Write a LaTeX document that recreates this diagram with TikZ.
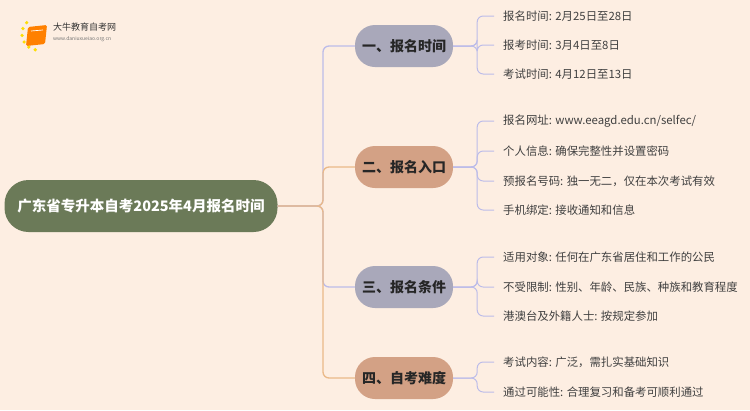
\documentclass[tikz,border=0pt]{standalone}
\usepackage{fontspec}
\setmainfont{Noto Sans CJK SC}
\begin{document}
\begin{tikzpicture}[x=1pt,y=-1pt,
  base/.style={font=\fontsize{11.4}{14}\selectfont},
  leaf/.style={base,anchor=west,inner sep=1pt,text=black!75},
  br/.style={rounded corners=20pt,minimum width=98pt,minimum height=42pt,font=\fontsize{14}{16}\selectfont\bfseries,text=black!85},
  lineA/.style={draw=gray!50!blue!35,line width=1.3pt,rounded corners=6pt},
  lineB/.style={draw=brown!60!orange!55,line width=1.3pt,rounded corners=6pt}]
\definecolor{bg}{HTML}{FDEEE2}
\definecolor{cA}{HTML}{A9A8BA}
\definecolor{cB}{HTML}{D3A185}
\definecolor{root}{HTML}{6B7A58}
\fill[bg] (0,0) rectangle (750,410);
\useasboundingbox (0,0) rectangle (750,410);
% logo
\foreach \a in {100,125,150,175,200,225}{\fill[yellow!80!orange] (38,34)++(\a:16) circle (1.8);}
\fill[orange,rounded corners=1.5pt] (28,27) -- (47,25) -- (45,44) -- (26,46) -- cycle;
\draw[white,line width=0.7pt] (31,31) -- (43,30);
\node[anchor=west,inner sep=0,font=\fontsize{9}{10}\selectfont,text=black!80] (logo) at (53,27) {大牛教育自考网};
\node[anchor=west,inner sep=0,font=\fontsize{5}{6}\selectfont,text=black!55] (url) at (53,39) {www.daniuxueiao.org.cn};
% root
\node[fill=root,rounded corners=24pt,minimum width=273pt,minimum height=52pt,text=white,font=\fontsize{14.5}{17}\selectfont\bfseries] (R) at (141,206) {广东省专升本自考2025年4月报名时间};
% branches
\node[br,fill=cA] (b1) at (404,46) {一、报名时间};
\node[br,fill=cB] (b2) at (404,167) {二、报名入口};
\node[br,fill=cA] (b3) at (404,287) {三、报名条件};
\node[br,fill=cB] (b4) at (404,378) {四、自考难度};
\draw[lineA] (R.east) -- (323,206) |- (b1.west);
\draw[lineB] (R.east) -- (323,206) |- (b2.west);
\draw[lineA] (R.east) -- (323,206) |- (b3.west);
\draw[lineB] (R.east) -- (323,206) |- (b4.west);
% leaves
\node[leaf] (l11) at (502,16) {报名时间: 2月25日至28日};
\node[leaf] (l12) at (502,45) {报考时间: 3月4日至8日};
\node[leaf] (l13) at (502,74) {考试时间: 4月12日至13日};
\node[leaf] (l21) at (502,121) {报名网址: www.eeagd.edu.cn/selfec/};
\node[leaf] (l22) at (502,151) {个人信息: 确保完整性并设置密码};
\node[leaf] (l23) at (502,181) {预报名号码: 独一无二，仅在本次考试有效};
\node[leaf] (l24) at (502,210) {手机绑定: 接收通知和信息};
\node[leaf] (l31) at (502,257) {适用对象: 任何在广东省居住和工作的公民};
\node[leaf] (l32) at (502,287) {不受限制: 性别、年龄、民族、种族和教育程度};
\node[leaf] (l33) at (502,316) {港澳台及外籍人士: 按规定参加};
\node[leaf] (l41) at (502,362) {考试内容: 广泛，需扎实基础知识};
\node[leaf] (l42) at (502,392) {通过可能性: 合理复习和备考可顺利通过};
\foreach \b/\l in {b1/l11,b1/l12,b1/l13,b2/l21,b2/l22,b2/l23,b2/l24,b3/l31,b3/l32,b3/l33,b4/l41,b4/l42}
  \draw[lineA,line width=1pt] (\b.east) -- ++(24,0) |- ([xshift=-8pt]\l.west);
\end{tikzpicture}
\end{document}
